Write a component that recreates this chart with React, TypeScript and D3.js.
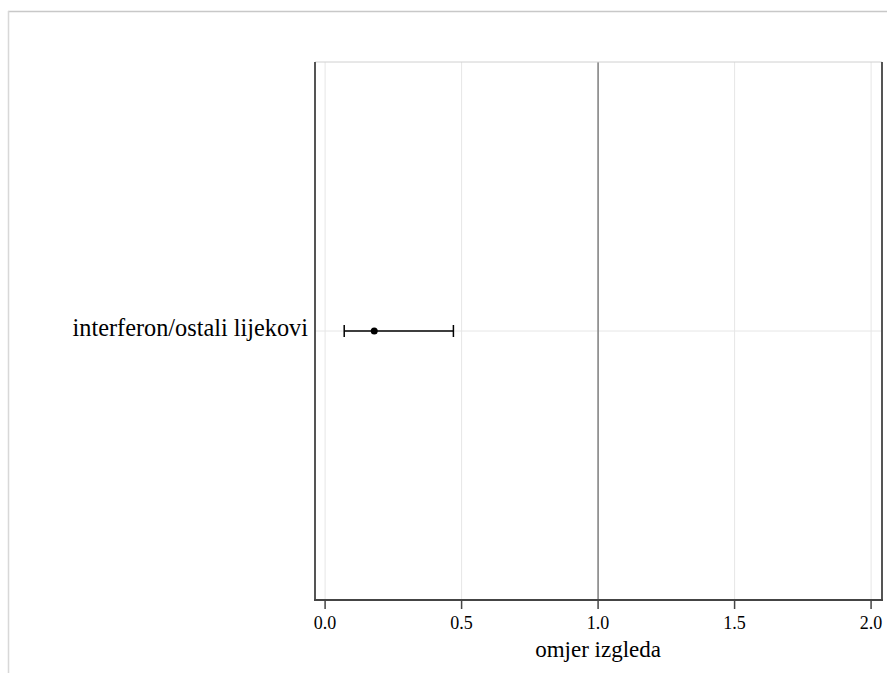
import React from "react";
import * as d3 from "d3";

const categories = ["interferon/ostali lijekovi"];
const estimates = [0.18];
const lower = [0.07];
const upper = [0.47];
const xTicks = [0.0, 0.5, 1.0, 1.5, 2.0];
const xLabel = "omjer izgleda";
const refValue = 1.0;

const W = 887;
const H = 673;
const M = { left: 315, right: 882, top: 62, bottom: 600 };

export default function App() {
  const x = d3.scaleLinear().domain([-0.037, 2.04]).range([M.left, M.right]);
  const y = d3.scalePoint<string>().domain(categories).range([M.top, M.bottom]).padding(0.5);
  const font = "'Liberation Serif', 'Times New Roman', serif";
  return (
    <svg width={W} height={H} style={{ position: "absolute", left: 0, top: 0, background: "#fff" }} fontFamily={font}>
      {/* outer frame */}
      <line x1={8} x2={W} y1={11.5} y2={11.5} stroke="#c8c8c8" strokeWidth={1.5} />
      <line x1={8.5} x2={8.5} y1={11} y2={H} stroke="#d8d8d8" strokeWidth={1.5} />
      {/* grid */}
      {xTicks.map((t) => (
        <line key={"g" + t} x1={x(t)} x2={x(t)} y1={M.top} y2={M.bottom} stroke="#e6e6e6" strokeWidth={1} />
      ))}
      {categories.map((c) => (
        <line key={"h" + c} x1={M.left} x2={M.right} y1={y(c)} y2={y(c)} stroke="#e6e6e6" strokeWidth={1} />
      ))}
      {/* reference line */}
      <line x1={x(refValue)} x2={x(refValue)} y1={M.top} y2={M.bottom} stroke="#808080" strokeWidth={1.5} />
      {/* frame */}
      <line x1={M.left} x2={M.right} y1={M.top} y2={M.top} stroke="#d0d0d0" strokeWidth={1} />
      <line x1={M.left} x2={M.left} y1={M.top} y2={M.bottom} stroke="#555" strokeWidth={2} />
      <line x1={M.right} x2={M.right} y1={M.top} y2={M.bottom} stroke="#555" strokeWidth={2} />
      <line x1={M.left - 1} x2={M.right + 1} y1={M.bottom} y2={M.bottom} stroke="#444" strokeWidth={2} />
      {/* x ticks */}
      {xTicks.map((t) => (
        <g key={"t" + t}>
          <line x1={x(t)} x2={x(t)} y1={M.bottom} y2={M.bottom + 9} stroke="#444" strokeWidth={1.5} />
          <text x={x(t)} y={M.bottom + 29} textAnchor="middle" fontSize={18} fill="#000">
            {d3.format(".1f")(t)}
          </text>
        </g>
      ))}
      <text x={x(1.0)} y={M.bottom + 57} textAnchor="middle" fontSize={23} fill="#000">
        {xLabel}
      </text>
      {/* data */}
      {categories.map((c, i) => {
        const yy = y(c) as number;
        return (
          <g key={c}>
            <text x={M.left - 7} y={yy + 5} textAnchor="end" fontSize={24.3} fill="#000">
              {c}
            </text>
            <line x1={x(lower[i])} x2={x(upper[i])} y1={yy} y2={yy} stroke="#000" strokeWidth={1.5} />
            <line x1={x(lower[i])} x2={x(lower[i])} y1={yy - 6} y2={yy + 6} stroke="#000" strokeWidth={1.5} />
            <line x1={x(upper[i])} x2={x(upper[i])} y1={yy - 6} y2={yy + 6} stroke="#000" strokeWidth={1.5} />
            <circle cx={x(estimates[i])} cy={yy} r={3.5} fill="#000" />
          </g>
        );
      })}
    </svg>
  );
}
